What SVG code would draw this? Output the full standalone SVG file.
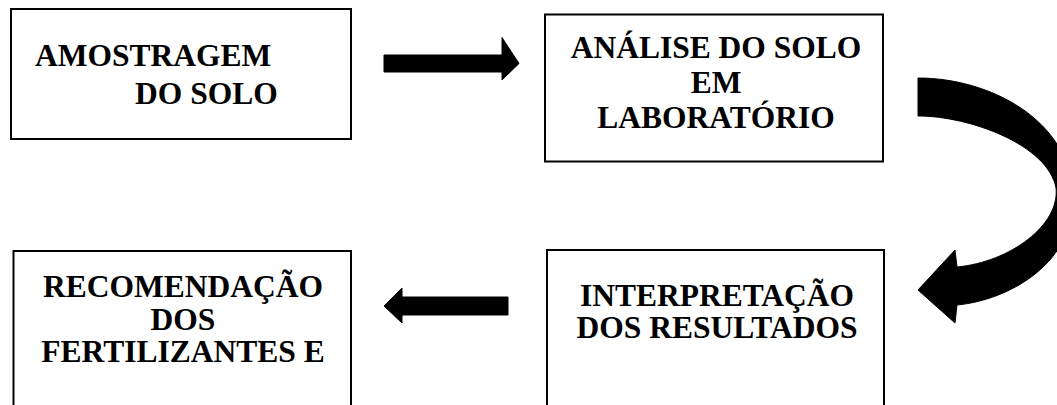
<svg xmlns="http://www.w3.org/2000/svg" width="1057" height="405" viewBox="0 0 1057 405">
<style>
.box{fill:#fff;stroke:#000;stroke-width:2}
text{font-family:'Liberation Serif','Times New Roman',Times,serif;font-weight:700;font-size:31.5px;fill:#000}
.c{text-anchor:middle}
.arr{fill:#000;stroke:#000;stroke-width:1;stroke-linejoin:round}
</style>
<rect width="1057" height="405" fill="#fff"/>
<g id="connectors">
<path class="arr" d="M384,55 L502,55 L502,37.5 L519,63.5 L502,80 L502,72 L384,72 Z"/>
<path class="arr" d="M918,78 C990,78 1070,120 1073,195 C1076,262 1010,300 957,305 L955,323 L918,290 L955,250 L957,267 C1010,262 1060,225 1056,188 C1048,145 970,116 918,116 Z"/>
<path class="arr" d="M508,297 L402,297 L402,288 L384,306 L402,323 L402,315 L508,315 Z"/>
</g>
<g id="n1" font-family="Liberation Serif, serif">
<rect class="box" x="11" y="9" width="340" height="130"/>
<text x="35" y="66">AMOSTRAGEM</text>
<text x="135" y="104">DO SOLO</text>
</g>
<g id="n2">
<rect class="box" x="545" y="14.5" width="338" height="147"/>
<text class="c" x="716" y="58">ANÁLISE DO SOLO</text>
<text class="c" x="716" y="93">EM</text>
<text class="c" x="716" y="128">LABORATÓRIO</text>
</g>
<g id="n3">
<rect class="box" x="547" y="250" width="337" height="170"/>
<text class="c" x="717" y="305.5">INTERPRETAÇÃO</text>
<text class="c" x="717" y="337.5">DOS RESULTADOS</text>
</g>
<g id="n4">
<rect class="box" x="13.5" y="251" width="337.5" height="170"/>
<text class="c" x="183" y="297">RECOMENDAÇÃO</text>
<text class="c" x="183" y="330">DOS</text>
<text class="c" x="183" y="362">FERTILIZANTES E</text>
</g>
</svg>
